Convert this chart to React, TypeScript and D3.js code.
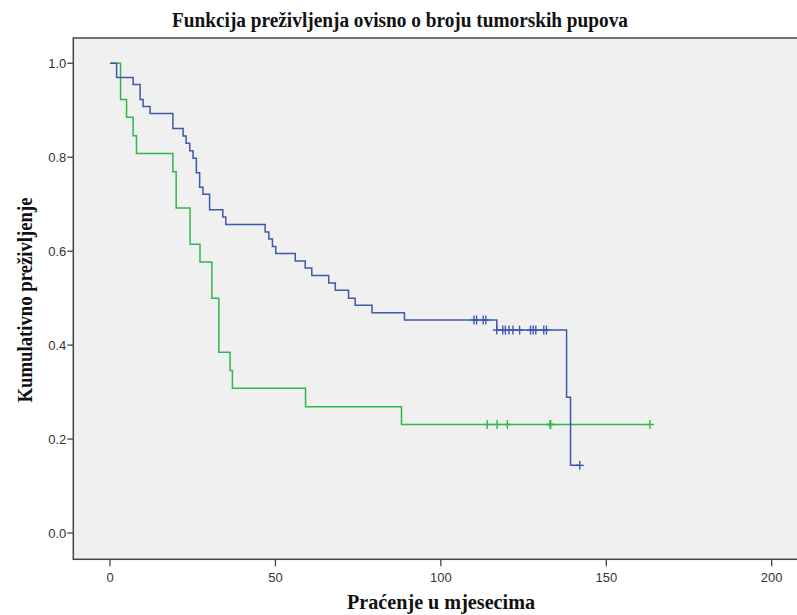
import React from "react";
import * as d3 from "d3";

const title = "Funkcija preživljenja ovisno o broju tumorskih pupova";
const xTitle = "Praćenje u mjesecima";
const yTitle = "Kumulativno preživljenje";
const xTicks = [0, 50, 100, 150, 200];
const yTicks = [0, 0.2, 0.4, 0.6, 0.8, 1.0];

// Group 1 (blue): step times and survival after each step
const blueTimes = [0, 2, 7, 9.1, 10, 12.1, 19, 22.1, 23, 24.1, 25.1, 26.1, 27.1, 28.1, 30.1, 34.1, 35, 46.9, 48, 49.1, 50.1, 56, 59, 61, 66.1, 68.1, 72.1, 74.1, 79.2, 89, 116.9, 138, 139.2, 142];
const blueSurv = [1, 0.97, 0.955, 0.923, 0.908, 0.893, 0.861, 0.845, 0.83, 0.814, 0.798, 0.767, 0.736, 0.721, 0.688, 0.673, 0.657, 0.641, 0.626, 0.61, 0.595, 0.579, 0.564, 0.548, 0.532, 0.517, 0.5, 0.485, 0.469, 0.4535, 0.432, 0.289, 0.144, 0.144];
const blueCensorTimes = [110, 110.8, 112.8, 113.6, 116.9, 118.7, 119.5, 120.6, 121.8, 123.8, 127.1, 127.9, 128.7, 131.1, 131.9, 142];
const blueCensorSurv = [0.4535, 0.4535, 0.4535, 0.4535, 0.432, 0.432, 0.432, 0.432, 0.432, 0.432, 0.432, 0.432, 0.432, 0.432, 0.432, 0.144];

// Group 2 (green)
const greenTimes = [0, 3.2, 5, 7, 8, 19, 20, 24.2, 27.2, 30.8, 32.9, 36.3, 37, 59.1, 88.1, 163.2];
const greenSurv = [1, 0.923, 0.885, 0.846, 0.808, 0.769, 0.692, 0.615, 0.577, 0.5, 0.385, 0.346, 0.308, 0.269, 0.231, 0.231];
const greenCensorTimes = [114, 117, 120.1, 133, 133.2, 163.2];
const greenCensorSurv = [0.231, 0.231, 0.231, 0.231, 0.231, 0.231];

const BLUE = "#3E58AC";
const GREEN = "#2EB848";

export default function App() {
  const W = 797, H = 615;
  const x = d3.scaleLinear().domain([0, 200]).range([110, 771.7]);
  const y = d3.scaleLinear().domain([0, 1]).range([533, 63.3]);
  const frameLeft = 73.3, frameTop = 38, frameBottom = 559.3;

  const line = d3.line<[number, number]>()
    .x(d => x(d[0]))
    .y(d => y(d[1]))
    .curve(d3.curveStepAfter);

  const bluePts = blueTimes.map((t, i) => [t, blueSurv[i]] as [number, number]);
  const greenPts = greenTimes.map((t, i) => [t, greenSurv[i]] as [number, number]);

  const censor = (ts: number[], ss: number[], color: string, key: string) =>
    ts.map((t, i) => (
      <g key={key + i} stroke={color} strokeWidth={1.4}>
        <line x1={x(t)} x2={x(t)} y1={y(ss[i]) - 4.5} y2={y(ss[i]) + 4.5} />
        <line x1={x(t) - 4} x2={x(t) + 4} y1={y(ss[i])} y2={y(ss[i])} />
      </g>
    ));

  const serif = { fontFamily: "Liberation Serif", fontWeight: "bold" as const, fill: "#111" };

  return (
    <svg width={W} height={H} style={{ display: "block", position: "absolute", left: 0, top: 0 }}>
      <rect x={0} y={0} width={W} height={H} fill="#ffffff" />
      <text x={400} y={27} textAnchor="middle" fontSize={20} textLength={456} lengthAdjust="spacingAndGlyphs" {...serif}>{title}</text>
      <rect x={frameLeft} y={frameTop} width={W - frameLeft + 10} height={frameBottom - frameTop} fill="#F0F0F0" stroke="#444" strokeWidth={1.5} />
      {yTicks.map(v => (
        <g key={"y" + v}>
          <line x1={frameLeft - 6} x2={frameLeft} y1={y(v)} y2={y(v)} stroke="#444" strokeWidth={1.3} />
          <text x={frameLeft - 7} y={y(v) + 4.5} textAnchor="end" fontFamily="Liberation Sans" fontSize={13} fill="#333">{v.toFixed(1)}</text>
        </g>
      ))}
      {xTicks.map(v => (
        <g key={"x" + v}>
          <line x1={x(v)} x2={x(v)} y1={frameBottom} y2={frameBottom + 7} stroke="#444" strokeWidth={1.3} />
          <text x={x(v)} y={582} textAnchor="middle" fontFamily="Liberation Sans" fontSize={13} fill="#333">{v}</text>
        </g>
      ))}
      <text x={441} y={609} textAnchor="middle" fontSize={20} textLength={188} lengthAdjust="spacingAndGlyphs" {...serif}>{xTitle}</text>
      <text transform={`translate(32,300) rotate(-90)`} textAnchor="middle" fontSize={20} textLength={205} lengthAdjust="spacingAndGlyphs" {...serif}>{yTitle}</text>
      <path d={line(greenPts) || ""} fill="none" stroke={GREEN} strokeWidth={1.5} />
      <path d={line(bluePts) || ""} fill="none" stroke={BLUE} strokeWidth={1.5} />
      {censor(greenCensorTimes, greenCensorSurv, GREEN, "gc")}
      {censor(blueCensorTimes, blueCensorSurv, BLUE, "bc")}
    </svg>
  );
}
